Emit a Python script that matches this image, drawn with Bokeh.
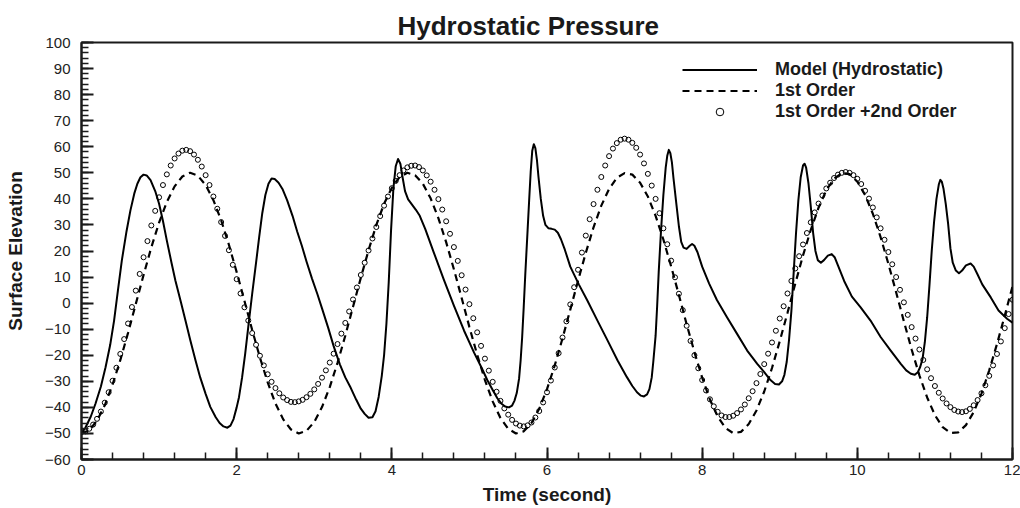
from bokeh.plotting import figure
from bokeh.models import Range1d, SingleIntervalTicker, Legend
from bokeh.embed import file_html
from bokeh.resources import INLINE

FONT = "Liberation Sans"

# ---- data ----
model_t = [0.00, 0.05, 0.12, 0.18, 0.25, 0.31, 0.37, 0.42, 0.47, 0.52, 0.58, 0.63, 0.68, 0.72, 0.76, 0.80, 0.84, 0.89, 0.95,
           1.00, 1.05, 1.10, 1.16, 1.21, 1.28, 1.34, 1.40, 1.47, 1.53, 1.60, 1.66, 1.73, 1.78, 1.83, 1.88, 1.92, 1.96,
           2.00, 2.03, 2.07, 2.11, 2.15, 2.20, 2.25, 2.29, 2.33, 2.37, 2.41, 2.45, 2.49, 2.54, 2.59, 2.65, 2.72, 2.78,
           2.84, 2.90, 2.97, 3.04, 3.10, 3.18, 3.25, 3.33, 3.40, 3.47, 3.54, 3.60, 3.65, 3.70, 3.75, 3.79, 3.83, 3.87,
           3.90, 3.93, 3.96, 3.99, 4.02, 4.05, 4.08, 4.11, 4.14, 4.17, 4.21, 4.26, 4.31, 4.36, 4.43, 4.54, 4.67, 4.80,
           4.93, 5.06, 5.16, 5.23, 5.30, 5.36, 5.41, 5.46, 5.51, 5.55, 5.58, 5.61, 5.64, 5.66, 5.68, 5.70, 5.72, 5.75,
           5.77, 5.79, 5.81, 5.83, 5.85, 5.87, 5.89, 5.92, 5.95, 5.98, 6.02, 6.06, 6.10, 6.14, 6.18, 6.23, 6.30, 6.41,
           6.52, 6.65, 6.78, 6.91, 7.03, 7.10, 7.16, 7.21, 7.25, 7.29, 7.32, 7.35, 7.37, 7.40, 7.42, 7.44, 7.47, 7.50,
           7.53, 7.55, 7.57, 7.59, 7.61, 7.63, 7.66, 7.70, 7.73, 7.76, 7.80, 7.84, 7.87, 7.90, 7.94, 8.00, 8.09, 8.19,
           8.32, 8.45, 8.58, 8.71, 8.80, 8.88, 8.94, 8.99, 9.03, 9.06, 9.09, 9.12, 9.15, 9.18, 9.21, 9.24, 9.27, 9.30,
           9.32, 9.34, 9.37, 9.40, 9.43, 9.46, 9.49, 9.53, 9.57, 9.62, 9.67, 9.71, 9.75, 9.83, 9.93, 10.04, 10.17,
           10.30, 10.43, 10.56, 10.63, 10.69, 10.74, 10.78, 10.81, 10.84, 10.87, 10.90, 10.93, 10.96, 10.99, 11.02,
           11.05, 11.07, 11.09, 11.11, 11.14, 11.17, 11.20, 11.23, 11.27, 11.31, 11.35, 11.40, 11.46, 11.50, 11.55,
           11.61, 11.72, 11.82, 11.93, 12.00]
model_v = [-50.0, -47.8, -43.5, -38.6, -32.0, -24.6, -16.0, -6.7, 5.0, 16.4, 27.5, 35.5, 42.0, 45.8, 48.3, 49.3, 49.0, 47.2, 43.0,
           38.1, 31.5, 24.0, 15.5, 8.7, 0.5, -6.7, -14.0, -22.0, -28.5, -34.8, -39.8, -43.8, -46.0, -47.3, -47.8, -47.0, -44.5,
           -40.0, -36.1, -28.5, -19.4, -9.0, 3.6, 15.5, 25.3, 34.5, 41.5, 45.8, 47.8, 47.6, 46.2, 43.8, 39.5, 33.5, 27.5,
           22.0, 16.0, 9.5, 3.5, -2.0, -9.5, -16.5, -23.5, -28.5, -32.5, -37.0, -40.5, -42.5, -44.0, -43.8, -41.5, -36.0, -28.0,
           -20.0, -8.0, 8.0, 28.0, 44.0, 52.5, 55.3, 53.5, 48.0, 43.0, 39.8, 37.8, 35.8, 33.5, 28.5, 19.5, 9.0, -1.0,
           -10.5, -19.0, -25.0, -29.5, -33.3, -36.5, -38.5, -39.7, -40.0, -39.3, -37.5, -34.5, -29.0, -22.0, -13.0, -1.5, 11.0, 28.0,
           39.5, 50.5, 58.5, 61.0, 59.5, 55.0, 48.5, 40.0, 33.5, 30.0, 28.7, 28.5, 28.2, 27.0, 24.5, 20.5, 14.0, 7.2,
           1.0, -6.7, -14.3, -22.0, -28.4, -31.8, -34.2, -35.5, -35.8, -35.0, -33.0, -28.5, -22.5, -12.5, -1.0, 12.0, 28.0, 41.5,
           52.0, 56.5, 58.8, 57.5, 54.0, 48.0, 40.0, 29.5, 23.5, 21.3, 20.8, 22.0, 22.7, 22.0, 19.5, 14.0, 7.5, 1.2,
           -5.4, -11.8, -18.2, -23.3, -26.5, -29.5, -31.0, -31.2, -30.0, -27.5, -22.5, -14.0, -3.0, 12.0, 27.0, 39.5, 48.3, 52.8,
           53.5, 52.0, 46.0, 37.0, 27.0, 20.0, 16.5, 15.5, 16.5, 18.2, 18.8, 17.5, 14.5, 8.5, 2.5, -1.5, -6.7,
           -13.0, -18.2, -23.3, -25.8, -27.1, -27.5, -26.5, -24.5, -21.5, -15.0, -5.5, 7.0, 20.5, 31.5, 40.0,
           45.5, 47.3, 46.5, 44.0, 38.0, 30.5, 21.0, 15.5, 12.5, 11.5, 12.5, 14.5, 15.2, 14.0, 11.0,
           7.2, 2.2, -2.8, -6.0, -7.5]

# 1st order, sampled every 0.1 s
first_t = [round(0.1 * i, 1) for i in range(121)]
first_v = [-50.0, -48.8, -45.1, -39.2, -31.3, -21.9, -11.4, -0.3, 10.8, 21.4,
           30.9, 38.8, 44.8, 48.6, 50.0, 48.9, 45.3, 39.5, 31.8, 22.4,
           11.9, 0.9, -10.3, -20.9, -30.4, -38.5, -44.6, -48.5, -50.0, -49.0,
           -45.6, -39.9, -32.2, -22.9, -12.5, -1.4, 9.7, 20.3, 30.0, 38.1,
           44.3, 48.4, 50.0, 49.1, 45.8, 40.2, 32.6, 23.4, 13.0, 2.0,
           -9.2, -19.8, -29.5, -37.7, -44.1, -48.2, -50.0, -49.2, -46.0, -40.5,
           -33.0, -23.9, -13.5, -2.5, 8.6, 19.3, 29.1, 37.4, 43.8, 48.1,
           49.9, 49.3, 46.2, 40.9, 33.5, 24.4, 14.1, 3.1, -8.1, -18.8,
           -28.6, -37.0, -43.5, -47.9, -49.9, -49.4, -46.4, -41.2, -33.9, -24.9,
           -14.6, -3.7, 7.5, 18.3, 28.1, 36.6, 43.3, 47.7, 49.9, 49.5,
           46.6, 41.5, 34.3, 25.3, 15.1, 4.2, -7.0, -17.8, -27.7, -36.2,
           -43.0, -47.6, -49.8, -49.6, -46.8, -41.8, -34.7, -25.8, -15.7, -4.8,
           6.4]

# 1st + 2nd order, sampled every 0.05 s
second_t = [round(0.05 * i, 2) for i in range(241)]
second_v = [-49.5, -49.2, -48.2, -46.6, -44.4, -41.6, -38.2, -34.2, -29.8, -24.8, -19.5, -13.8, -7.8, -1.5, 4.8,
            11.2, 17.6, 23.8, 29.8, 35.4, 40.6, 45.3, 49.4, 52.8, 55.5, 57.4, 58.5,
            58.8, 58.3, 57.0, 55.0, 52.4, 49.1, 45.3, 40.9, 36.2, 31.1, 25.8, 20.3, 14.7, 9.2, 3.7, -1.6, -6.7,
            -11.5, -16.0, -20.2, -23.9, -27.3, -30.2, -32.6, -34.6, -36.2, -37.2, -37.9,
            -38.0, -37.7, -37.1, -36.1, -34.8, -33.1, -31.0, -28.6, -25.8, -22.8, -19.4, -15.7, -11.7, -7.6, -3.2,
            1.4, 6.0, 10.8, 15.5, 20.2, 24.8, 29.2, 33.4, 37.4, 40.9, 44.1, 46.9, 49.1, 50.9, 52.1, 52.7,
            52.8, 52.2, 50.9, 49.0, 46.6, 43.5, 39.9, 35.9, 31.4, 26.6, 21.5, 16.2, 10.7, 5.2, -0.4,
            -5.8, -11.2, -16.4, -21.3, -25.9, -30.2, -34.0, -37.5, -40.4, -42.8, -44.8, -46.2, -47.0, -47.3,
            -46.9, -45.8, -43.9, -41.4, -38.1, -34.2, -29.7, -24.7, -19.2, -13.2, -7.0, -0.5, 6.1,
            12.8, 19.4, 25.9, 32.2, 38.0, 43.5, 48.4, 52.8, 56.4, 59.3, 61.4, 62.7, 63.1,
            62.7, 61.5, 59.6, 57.0, 53.6, 49.6, 45.1, 40.0, 34.5, 28.7, 22.6, 16.3, 9.9,
            3.6, -2.7, -8.7, -14.5, -20.0, -25.0, -29.5, -33.5, -36.9, -39.6, -41.7, -43.1, -43.7,
            -43.7, -43.2, -42.2, -40.8, -38.9, -36.5, -33.8, -30.7, -27.2, -23.4, -19.4, -15.1, -10.6, -5.9, -1.2,
            3.7, 8.5, 13.3, 18.0, 22.5, 26.9, 31.0, 34.8, 38.2, 41.3, 44.0, 46.2, 48.0, 49.3, 50.0, 50.3,
            50.0, 49.1, 47.7, 45.7, 43.1, 40.1, 36.7, 32.9, 28.7, 24.3, 19.6, 14.9, 10.0, 5.1, 0.3,
            -4.5, -9.2, -13.6, -17.8, -21.8, -25.4, -28.8, -31.8, -34.4, -36.6, -38.5, -39.9, -41.0, -41.6, -41.8,
            -41.5, -40.6, -39.2, -37.2, -34.6, -31.5, -27.9, -23.9, -19.5, -14.7, -9.6, -4.2, 1.3]

series_names = ["Model (Hydrostatic)", "1st Order", "1st Order +2nd Order"]
title_text = "Hydrostatic Pressure"
x_label = "Time (second)"
y_label = "Surface Elevation"

assert len(model_t) == len(model_v)
assert len(first_t) == len(first_v)
assert len(second_t) == len(second_v)

# ---- figure ----
p = figure(width=1020, height=508, output_backend="svg", toolbar_location=None,
           x_range=Range1d(0, 12), y_range=Range1d(-60, 100),
           min_border_left=81, min_border_right=8, min_border_top=42, min_border_bottom=49,
           background_fill_color="white", border_fill_color="white")

p.title.text = title_text
p.title.text_font = FONT
p.title.text_font_size = "26px"
p.title.text_font_style = "bold"
p.title.text_color = "#1a1a1a"
p.title.align = "left"
p.title.offset = 316
p.title.standoff = 4

p.grid.visible = False
p.outline_line_color = "#1a1a1a"
p.outline_line_width = 2

p.xaxis.ticker = SingleIntervalTicker(interval=2, num_minor_ticks=5)
p.yaxis.ticker = SingleIntervalTicker(interval=10, num_minor_ticks=5)

for ax in (p.xaxis[0], p.yaxis[0]):
    ax.axis_line_width = 2
    ax.axis_line_color = "#1a1a1a"
    ax.major_tick_in = 12
    ax.major_tick_out = 0
    ax.minor_tick_in = 7
    ax.minor_tick_out = 0
    ax.major_tick_line_width = 2
    ax.minor_tick_line_width = 1.5
    ax.major_tick_line_color = "#1a1a1a"
    ax.minor_tick_line_color = "#1a1a1a"
    ax.major_label_text_font = FONT
    ax.major_label_text_font_size = "15px"
    ax.major_label_text_color = "#222222"
    ax.axis_label_text_font = FONT
    ax.axis_label_text_font_size = "19px"
    ax.axis_label_text_font_style = "bold"
    ax.axis_label_text_color = "#1a1a1a"

p.xaxis.axis_label = x_label
p.yaxis.axis_label = y_label
p.xaxis.major_label_standoff = 5
p.xaxis.axis_label_standoff = 6
p.yaxis.major_label_standoff = 11
p.yaxis.axis_label_standoff = 16

r_model = p.line(model_t, model_v, line_color="black", line_width=2, line_join="round")
r_first = p.line(first_t, first_v, line_color="black", line_width=2.2, line_dash="7 5")
r_second = p.scatter(second_t, second_v, marker="circle", size=5, line_color="black",
                     line_width=1, fill_color=None)

legend = Legend(items=[(series_names[0], [r_model]),
                       (series_names[1], [r_first]),
                       (series_names[2], [r_second])],
                location=(601, 337), orientation="vertical",
                glyph_width=75, glyph_height=19, label_standoff=18,
                label_height=19, spacing=0, padding=0, margin=0,
                border_line_color=None, background_fill_alpha=0,
                label_text_font=FONT, label_text_font_size="18px",
                label_text_font_style="bold", label_text_color="#1a1a1a",
                label_text_line_height=1.0)
p.add_layout(legend)

open("out.html", "w").write(file_html(p, INLINE))
